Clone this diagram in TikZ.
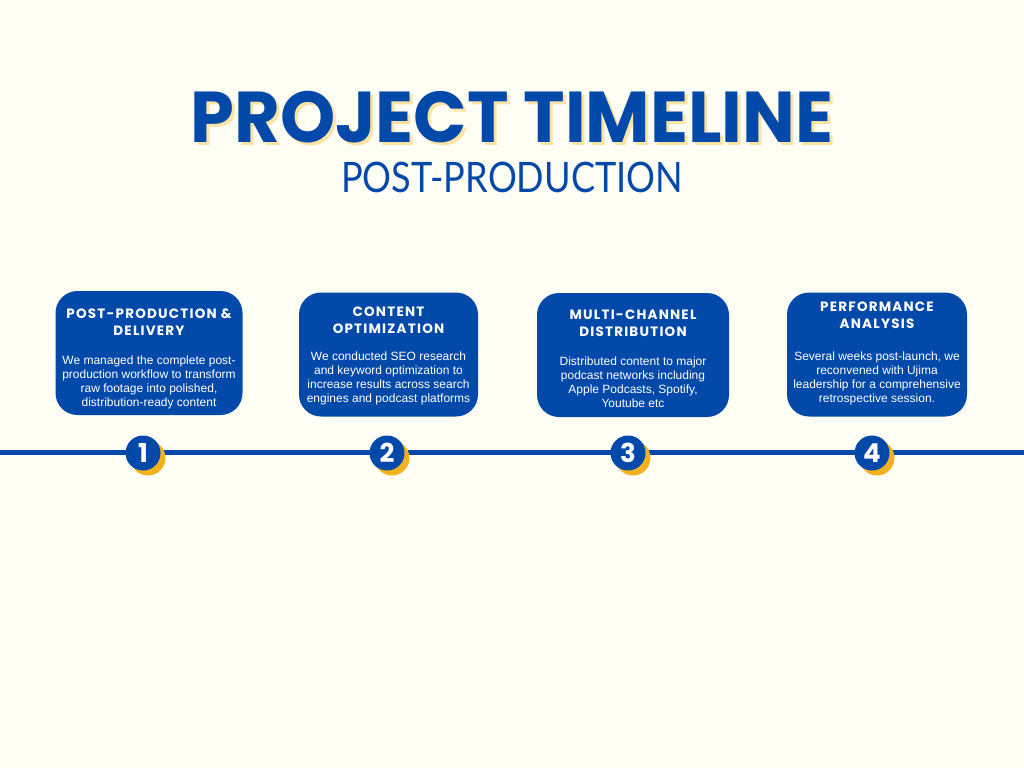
\documentclass[tikz,border=0pt]{standalone}
\usepackage{fontspec}
\setmainfont{Liberation Sans}
\newfontfamily\titlefont{Poppins}
\newfontfamily\subfont{Lato}
\newfontfamily\headfont{Poppins}[LetterSpace=9]
\definecolor{bgcol}{HTML}{FFFEF5}
\definecolor{tblue}{HTML}{0349AA}
\definecolor{tyellow}{HTML}{F2B21E}
\definecolor{tshadow}{HTML}{FBE3A3}
\tikzset{
  bigtitle/.style={font=\titlefont\bfseries\fontsize{72}{80}\selectfont, inner sep=0pt, anchor=base, xscale=0.975, text depth=0pt},
  subtitle/.style={font=\subfont\fontsize{42}{48}\selectfont, text=tblue, inner sep=0pt, anchor=base, xscale=0.86, text depth=0pt},
  card/.style={fill=tblue, rounded corners=22pt, minimum height=124pt, inner sep=0pt},
  cardhead/.style={font=\headfont\bfseries\fontsize{13.5}{17}\selectfont, text=white, align=center, inner sep=0pt},
  cardbody/.style={font=\fontsize{12}{14}\selectfont, text=white, align=center, inner sep=0pt},
  dotshadow/.style={circle, fill=tyellow, minimum size=35pt, inner sep=0pt},
  dotmain/.style={circle, fill=tblue, minimum size=35pt, inner sep=0pt, text=white, font=\titlefont\bfseries\fontsize{26}{26}\selectfont},
  timeline/.style={draw=tblue, line width=5pt}
}
\begin{document}
\begin{tikzpicture}[x=1pt,y=-1pt]
\fill[bgcol] (0,0) rectangle (1024,768);
\useasboundingbox (0,0) rectangle (1024,768);

% titles
\node[bigtitle, text=tshadow] (titleshadow) at (515,145) {PROJECT TIMELINE};
\node[bigtitle, text=tblue] (title) at (512,142) {PROJECT TIMELINE};
\node[subtitle] (sub) at (512,192) {POST-PRODUCTION};

% timeline
\coordinate (lineL) at (0,452);
\coordinate (lineR) at (1024,452);
\draw[timeline] (lineL) -- (lineR);

% cards
\node[card, minimum width=187pt] (c1) at (149,353) {};
\node[card, minimum width=179pt] (c2) at (388.5,354.5) {};
\node[card, minimum width=192pt] (c3) at (633,355) {};
\node[card, minimum width=180pt] (c4) at (877,354.5) {};

\node[cardhead] (h1) at (149,322) {POST-PRODUCTION \&\\DELIVERY};
\node[cardbody] (t1) at (149,382) {We managed the complete post-\\production workflow to transform\\raw footage into polished,\\distribution-ready content};

\node[cardhead] (h2) at (388.5,320.5) {CONTENT\\OPTIMIZATION};
\node[cardbody] (t2) at (388.5,378) {We conducted SEO research\\and keyword optimization to\\increase results across search\\engines and podcast platforms};

\node[cardhead] (h3) at (633,323.5) {MULTI-CHANNEL\\DISTRIBUTION};
\node[cardbody] (t3) at (633,382) {Distributed content to major\\podcast networks including\\Apple Podcasts, Spotify,\\Youtube etc};

\node[cardhead] (h4) at (877,315.5) {PERFORMANCE\\ANALYSIS};
\node[cardbody] (t4) at (877,378) {Several weeks post-launch, we\\reconvened with Ujima\\leadership for a comprehensive\\retrospective session.};

% markers
\node[dotshadow] (s1) at (148,458) {};
\node[dotmain] (d1) at (143,453) {1};
\node[dotshadow] (s2) at (392,458) {};
\node[dotmain] (d2) at (387,453) {2};
\node[dotshadow] (s3) at (633,458) {};
\node[dotmain] (d3) at (628,453) {3};
\node[dotshadow] (s4) at (877,458) {};
\node[dotmain] (d4) at (872,453) {4};
\end{tikzpicture}
\end{document}
